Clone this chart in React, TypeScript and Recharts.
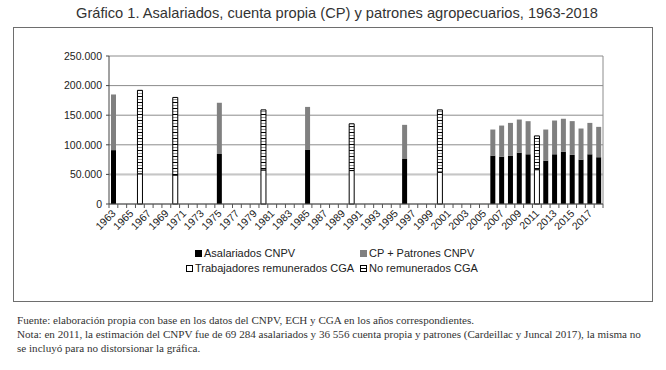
import { BarChart, Bar, XAxis, YAxis, CartesianGrid } from 'recharts'

// years on the category axis, 1963-2018
const years: number[] = []
for (let y = 1963; y <= 2018; y++) years.push(y)

// CNPV / ECH
const cnpvYears = [1963, 1975, 1985, 1996, 2006, 2007, 2008, 2009, 2010, 2012, 2013, 2014, 2015, 2016, 2017, 2018]
const asalariados = [91000, 84500, 92000, 76000, 81800, 80000, 81800, 86800, 84000, 73300, 84000, 88500, 83000, 75000, 84000, 79000]
const cpPatrones = [94000, 86500, 72000, 57700, 44000, 52500, 55200, 55900, 55900, 52500, 57000, 55500, 57000, 52500, 53000, 51300]

// CGA
const cgaYears = [1966, 1970, 1980, 1990, 2000, 2011]
const remunerados = [51000, 49000, 57500, 56500, 53500, 58000]
const noRemunerados = [141000, 131000, 101500, 79000, 105500, 57000]

const yTicks = [0, 50000, 100000, 150000, 200000, 250000]

const data = years.map((year) => {
  const i = cnpvYears.indexOf(year)
  const j = cgaYears.indexOf(year)
  return {
    year,
    asal: i >= 0 ? asalariados[i] : null,
    cp: i >= 0 ? cpPatrones[i] : null,
    rem: j >= 0 ? remunerados[j] : null,
    norem: j >= 0 ? noRemunerados[j] : null,
  }
})

const CHART_W = 666
const CHART_H = 250
const MARGIN_T = 56
const MARGIN_L = 109
const MARGIN_R = 63
const X_AXIS_H = 46
const PLOT_H = CHART_H - MARGIN_T - X_AXIS_H
const BAND = (CHART_W - MARGIN_L - MARGIN_R) / years.length
const FONT = '"Liberation Sans", Arial, sans-serif'

const fmt = (v: number) => String(v).replace(/\B(?=(\d{3})+(?!\d))/g, '.')

function YearTick(props: any) {
  const { x, y, payload } = props
  const year = payload.value as number
  const left = x - BAND / 2
  return (
    <g>
      <line x1={left} y1={y} x2={left} y2={y + 4} stroke="#555" />
      {year === 2018 && <line x1={x + BAND / 2} y1={y} x2={x + BAND / 2} y2={y + 4} stroke="#555" />}
      {year % 2 === 1 && (
        <text
          x={x + 3}
          y={y + 10}
          textAnchor="end"
          fontSize={10.5}
          fontFamily={FONT}
          fill="#222"
          transform={`rotate(-45 ${x + 3} ${y + 10})`}
        >
          {year}
        </text>
      )}
    </g>
  )
}

function LegendItem({ left, top, swatch, label }: { left: number, top: number, swatch: any, label: string }) {
  return (
    <div style={{ position: 'absolute', left, top, display: 'flex', alignItems: 'center', fontFamily: FONT, fontSize: 11, color: '#222', whiteSpace: 'nowrap' }}>
      <div style={{ width: 7, height: 7, boxSizing: 'border-box', marginRight: 2, ...swatch }}></div>
      <span>{label}</span>
    </div>
  )
}

export default function App() {
  return (
    <div style={{ position: 'absolute', left: 0, top: 0, width: 666, height: 370, background: '#fff', overflow: 'hidden' }}>
      <svg width={666} height={24} style={{ position: 'absolute', left: 0, top: 0 }}>
        <text x={337} y={18} textAnchor="middle" fontSize={15} fontFamily='"Liberation Sans Narrow", "Liberation Sans", sans-serif' fill="#333" textLength={522} lengthAdjust="spacingAndGlyphs">
          Gráfico 1. Asalariados, cuenta propia (CP) y patrones agropecuarios, 1963-2018
        </text>
      </svg>

      {/* frame around chart */}
      <div style={{ position: 'absolute', left: 13, top: 27, width: 640, height: 275, border: '1px solid #6e6e6e', boxSizing: 'border-box' }}></div>

      <div style={{ position: 'absolute', left: 0, top: 0 }}>
        <BarChart width={CHART_W} height={CHART_H} data={data} margin={{ top: MARGIN_T, right: MARGIN_R, left: 0, bottom: 0 }} barSize={5}>
          <defs>
            <pattern id="stripes" patternUnits="userSpaceOnUse" width={6} height={6}>
              <rect width={6} height={6} fill="#fff" />
              <rect y={0} width={6} height={1} fill="#000" />
              <rect y={3} width={6} height={1} fill="#9a9a9a" />
            </pattern>
          </defs>
          <CartesianGrid vertical={false} stroke="#8c8c8c" />
          {/* lighter, heavier 50.000 line */}
          <CartesianGrid vertical={false} horizontalPoints={[MARGIN_T + PLOT_H * 0.8]} stroke="#c6c6c6" strokeWidth={2} />
          <CartesianGrid horizontal={false} verticalPoints={[CHART_W - MARGIN_R]} stroke="#8c8c8c" />
          <XAxis
            dataKey="year"
            interval={0}
            height={X_AXIS_H}
            tickSize={0}
            tickMargin={0}
            tickLine={false}
            axisLine={{ stroke: '#555' }}
            tick={<YearTick />}
          />
          <YAxis
            width={MARGIN_L}
            domain={[0, 250000]}
            ticks={yTicks}
            tickFormatter={fmt}
            tickSize={3}
            tickMargin={4}
            axisLine={{ stroke: '#444' }}
            tickLine={{ stroke: '#444' }}
            tick={{ fontSize: 10.5, fontFamily: FONT, fill: '#222' }}
          />
          <Bar dataKey="asal" stackId="a" fill="#000" isAnimationActive={false} />
          <Bar dataKey="cp" stackId="a" fill="#808080" isAnimationActive={false} />
          <Bar dataKey="rem" stackId="a" fill="#fff" stroke="#000" strokeWidth={1} isAnimationActive={false} />
          <Bar dataKey="norem" stackId="a" fill="url(#stripes)" stroke="#000" strokeWidth={1} isAnimationActive={false} />
        </BarChart>
      </div>

      {/* legend */}
      <LegendItem left={195} top={247} swatch={{ background: '#000' }} label="Asalariados CNPV" />
      <LegendItem left={360} top={247} swatch={{ background: '#808080' }} label="CP + Patrones CNPV" />
      <LegendItem left={186} top={262} swatch={{ background: '#fff', border: '1px solid #000' }} label="Trabajadores remunerados CGA" />
      <LegendItem left={360} top={262} swatch={{ background: 'linear-gradient(#fff 0 2px, #000 2px 3px, #fff 3px)', border: '1px solid #000' }} label="No remunerados CGA" />

      {/* notes */}
      <div style={{ position: 'absolute', left: 17, top: 314, width: 650, fontFamily: '"Liberation Serif", "Times New Roman", serif', fontSize: 11.1, lineHeight: '13.8px', color: '#333', whiteSpace: 'nowrap' }}>
        <div>Fuente: elaboración propia con base en los datos del CNPV, ECH y CGA en los años correspondientes.</div>
        <div>Nota: en 2011, la estimación del CNPV fue de 69 284 asalariados y 36 556 cuenta propia y patrones (Cardeillac y Juncal 2017), la misma no</div>
        <div>se incluyó para no distorsionar la gráfica.</div>
      </div>
    </div>
  )
}
